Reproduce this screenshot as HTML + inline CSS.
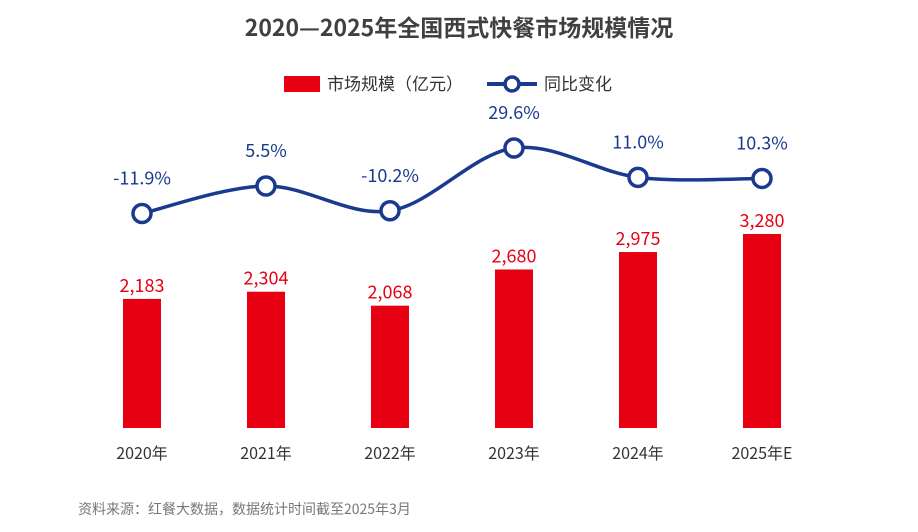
<!DOCTYPE html>
<html><head><meta charset="utf-8"><style>
body{margin:0;background:#fff;}
svg{display:block;font-family:"Noto Sans CJK SC","Liberation Sans",sans-serif;}
</style></head><body>
<svg id="chart" width="918" height="532">
<text x="459" y="36" text-anchor="middle" font-size="23" font-weight="bold" fill="#404040">2020—2025年全国西式快餐市场规模情况</text>
<g>
<rect x="284" y="76" width="36" height="16" fill="#e60012"/>
<text x="327" y="90" font-size="17" fill="#333">市场规模（亿元）</text>
<line x1="487" y1="84" x2="537" y2="84" stroke="#1a3a8f" stroke-width="4"/>
<circle cx="512" cy="84" r="7" fill="#fff" stroke="#1a3a8f" stroke-width="3.5"/>
<text x="544" y="90" font-size="17" fill="#333">同比变化</text>
</g>
<g id="bars"></g><g id="line"></g>
<text x="78" y="514" font-size="14" fill="#777">资料来源：红餐大数据，数据统计时间截至2025年3月</text>
</svg>
<script>
const categories=["2020年","2021年","2022年","2023年","2024年","2025年E"];
const marketSize=[2183,2304,2068,2680,2975,3280];
const marketLabels=["2,183","2,304","2,068","2,680","2,975","3,280"];
const growth=[-11.9,5.5,-10.2,29.6,11.0,10.3];
const growthLabels=["-11.9%","5.5%","-10.2%","29.6%","11.0%","10.3%"];
const NS="http://www.w3.org/2000/svg";
const xS=i=>142+i*124;
const yBar=v=>428-v*0.05915;
const yLine=v=>194.7-1.577*v;
function mk(t,a,p){const e=document.createElementNS(NS,t);for(const k in a)e.setAttribute(k,a[k]);p.appendChild(e);return e;}
const bars=document.getElementById('bars'),line=document.getElementById('line');
categories.forEach((c,i)=>{
 const r=mk('rect',{x:xS(i)-19,y:yBar(marketSize[i]),width:38,height:428-yBar(marketSize[i]),fill:'#e60012'},bars);
 
 
 const t=mk('text',{x:xS(i),y:yBar(marketSize[i])-7,'text-anchor':'middle','font-size':18,fill:'#e60012'},bars);
 t.textContent=marketLabels[i];
 
 
 const xl=mk('text',{x:xS(i),y:459,'text-anchor':'middle','font-size':16,fill:'#333'},bars);
 xl.textContent=c;
 
 
});
const pts=growth.map((v,i)=>[xS(i),yLine(v)]);
let d='M'+pts[0][0]+','+pts[0][1];
for(let i=0;i<pts.length-1;i++){
 const p0=pts[Math.max(i-1,0)],p1=pts[i],p2=pts[i+1],p3=pts[Math.min(i+2,pts.length-1)];
 const c1=[p1[0]+(p2[0]-p0[0])/6,p1[1]+(p2[1]-p0[1])/6],c2=[p2[0]-(p3[0]-p1[0])/6,p2[1]-(p3[1]-p1[1])/6];
 d+=' C'+c1+' '+c2+' '+p2;
}
const path=mk('path',{d:d,fill:'none',stroke:'#1a3a8f','stroke-width':3.5},line);


pts.forEach((p,i)=>{
 const c=mk('circle',{cx:p[0],cy:p[1],r:9,fill:'#fff',stroke:'#1a3a8f','stroke-width':3.5},line);
 
 
 const t=mk('text',{x:p[0],y:p[1]-29,'text-anchor':'middle','font-size':18,fill:'#1a3a8f'},line);
 t.textContent=growthLabels[i];
 
 
});
</script>
</body></html>
